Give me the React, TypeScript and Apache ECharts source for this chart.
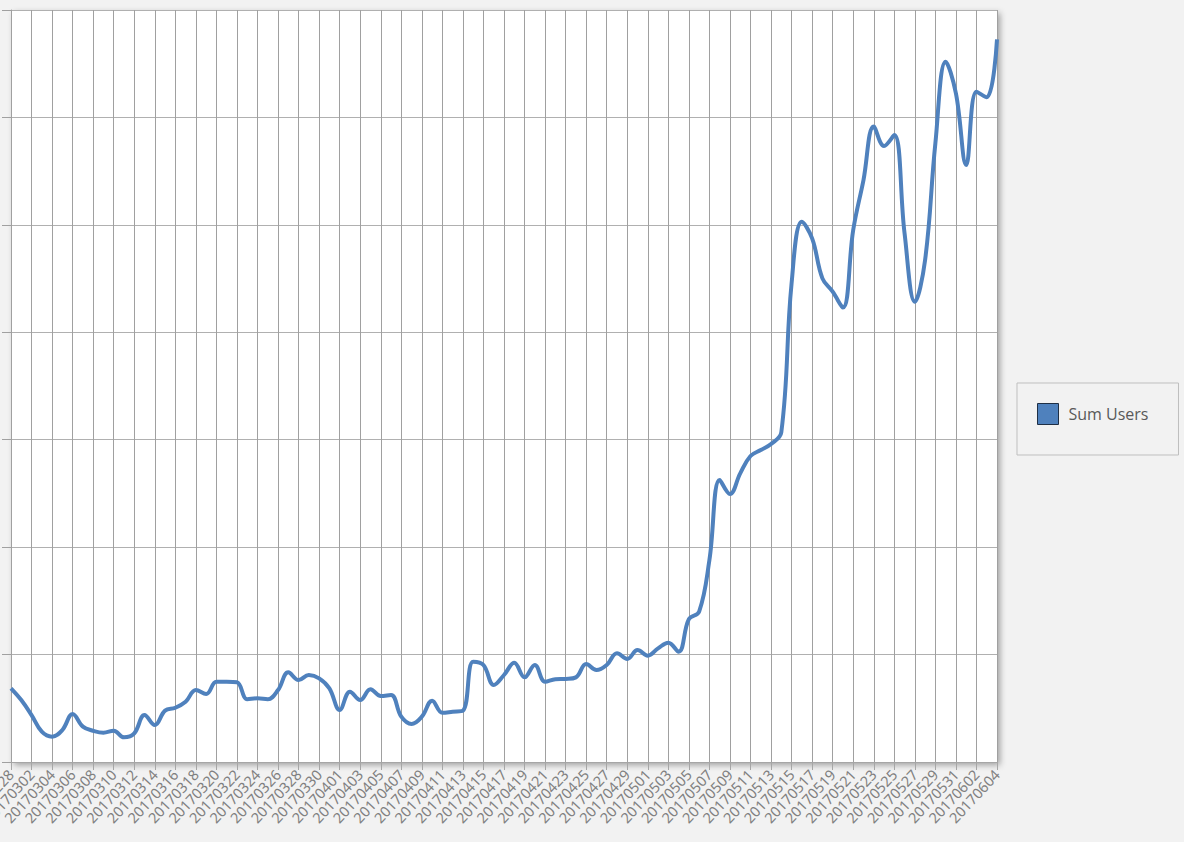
import React, { useEffect, useRef } from "react";
import * as echarts from "echarts";

const categories: string[] = [
  "20170228", "20170301", "20170302", "20170303", "20170304", "20170305", "20170306", "20170307",
  "20170308", "20170309", "20170310", "20170311", "20170312", "20170313", "20170314", "20170315",
  "20170316", "20170317", "20170318", "20170319", "20170320", "20170321", "20170322", "20170323",
  "20170324", "20170325", "20170326", "20170327", "20170328", "20170329", "20170330", "20170331",
  "20170401", "20170402", "20170403", "20170404", "20170405", "20170406", "20170407", "20170408",
  "20170409", "20170410", "20170411", "20170412", "20170413", "20170414", "20170415", "20170416",
  "20170417", "20170418", "20170419", "20170420", "20170421", "20170422", "20170423", "20170424",
  "20170425", "20170426", "20170427", "20170428", "20170429", "20170430", "20170501", "20170502",
  "20170503", "20170504", "20170505", "20170506", "20170507", "20170508", "20170509", "20170510",
  "20170511", "20170512", "20170513", "20170514", "20170515", "20170516", "20170517", "20170518",
  "20170519", "20170520", "20170521", "20170522", "20170523", "20170524", "20170525", "20170526",
  "20170527", "20170528", "20170529", "20170530", "20170531", "20170601", "20170602", "20170603",
  "20170604",
];

const sumUsers: number[] = [
  686, 577, 437, 282, 236, 298, 447, 329, 291, 273,
  291, 230, 267, 437, 344, 478, 505, 561, 670, 633,
  747, 747, 742, 584, 593, 584, 670, 835, 763, 810,
  779, 686, 484, 655, 577, 677, 614, 624, 422, 354,
  422, 571, 459, 468, 478, 934, 903, 717, 810, 924,
  788, 903, 747, 770, 773, 788, 912, 856, 903, 1012,
  959, 1043, 990, 1058, 1111, 1027, 1330, 1400, 1880, 2625,
  2495, 2687, 2848, 2904, 2960, 3070, 4455, 5029, 4874, 4502,
  4378, 4230, 4952, 5417, 5915, 5734, 5836, 4921, 4285, 4673,
  5759, 6518, 6224, 5557, 6239, 6187, 6727,
];

const seriesName = "Sum Users";
const yMin = 0;
const yMax = 7000;
const yInterval = 1000;

export default function App() {
  const ref = useRef<HTMLDivElement>(null);

  useEffect(() => {
    if (!ref.current) return;
    const chart = echarts.init(ref.current, undefined, { renderer: "svg" });
    chart.setOption({
      animation: false,
      backgroundColor: "#f2f2f2",
      grid: {
        show: true,
        left: 11,
        right: 187,
        top: 10,
        bottom: 80,
        containLabel: false,
        outerBoundsMode: "none",
        backgroundColor: "#ffffff",
        borderWidth: 0,
        shadowBlur: 6,
        shadowOffsetX: 3,
        shadowOffsetY: 3,
        shadowColor: "rgba(0,0,0,0.35)",
      },
      legend: {
        show: true,
        left: 1017,
        top: 383,
        orient: "vertical",
        padding: [20, 30, 30, 20],
        borderColor: "#bfbfbf",
        borderWidth: 1,
        borderRadius: 0,
        backgroundColor: "#f2f2f2",
        itemWidth: 21,
        itemHeight: 21,
        itemGap: 10,
        icon: "rect",
        itemStyle: { color: "#4f81bd", borderColor: "#1f2f45", borderWidth: 1 },
        textStyle: {
          fontFamily: "Open Sans",
          fontSize: 16,
          color: "#595959",
          padding: [0, 0, 0, 5],
        },
        data: [seriesName],
      },
      xAxis: {
        type: "category",
        data: categories,
        boundaryGap: false,
        axisLine: { show: true, lineStyle: { color: "#a6a6a6", width: 1 } },
        axisTick: { show: true, interval: 1, length: 8, lineStyle: { color: "#a6a6a6" } },
        axisLabel: {
          interval: 1,
          rotate: 47,
          margin: 10,
          fontFamily: "Noto Sans",
          fontSize: 14.5,
          color: "#808080",
        },
        splitLine: { show: true, interval: 1, lineStyle: { color: "#a0a0a0", width: 1 } },
      },
      yAxis: {
        type: "value",
        min: yMin,
        max: yMax,
        interval: yInterval,
        axisLine: { show: true, lineStyle: { color: "#a0a0a0" } },
        axisTick: { show: true, length: 9, lineStyle: { color: "#a0a0a0" } },
        axisLabel: { show: false },
        splitLine: { show: true, lineStyle: { color: "#b0b0b0", width: 1 } },
      },
      series: [
        {
          name: seriesName,
          type: "line",
          data: sumUsers,
          smooth: 0.4,
          symbol: "none",
          lineStyle: { color: "#4f81bd", width: 4 },
          itemStyle: { color: "#4f81bd" },
        },
      ],
    });
    return () => chart.dispose();
  }, []);

  return (
    <div
      ref={ref}
      style={{ position: "fixed", left: 0, top: 0, width: 1184, height: 842 }}
    />
  );
}
